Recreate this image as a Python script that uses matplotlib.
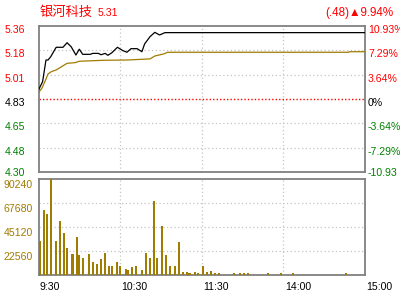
import matplotlib
matplotlib.use("Agg")
import matplotlib.pyplot as plt
from matplotlib.transforms import ScaledTranslation, blended_transform_factory

plt.rcParams['font.family'] = ['Liberation Sans', 'DejaVu Sans']

# --- data ---
stock_name = '银河科技'
last_price = '5.31'
change_text = '(.48)▲9.94%'
prev_close = 4.83
pct_ticks = [10.93, 7.29, 3.64, 0, -3.64, -7.29, -10.93]
price_labels = ['5.36', '5.18', '5.01', '4.83', '4.65', '4.48', '4.30']
pct_labels = ['10.93%', '7.29%', '3.64%', '0%', '-3.64%', '-7.29%', '-10.93']

# minutes since 9:30 (trading minutes, 240 total)
time_ticks = [0, 60, 120, 180, 240]
time_labels = ['9:30', '10:30', '11:30', '14:00', '15:00']

price_min = [0, 3, 5.5, 7, 9, 13, 18, 21, 24, 27.5, 30, 32.5, 38, 40, 44, 46, 49,
             51, 54, 58, 62, 65, 68, 72.5, 76, 78, 82, 85.5, 89, 93, 240]
price = [4.895, 4.955, 5.112, 5.112, 5.136, 5.204, 5.204, 5.237, 5.208, 5.148, 5.19,
         5.153, 5.153, 5.16, 5.16, 5.15, 5.16, 5.146, 5.165, 5.204, 5.18, 5.168,
         5.194, 5.194, 5.172, 5.228, 5.281, 5.312, 5.293, 5.31, 5.31]

avg_min = [0, 2.5, 5, 7, 9.5, 13, 17, 21, 27, 30, 48, 65, 82, 85.5, 92, 95, 228, 228.5, 240]
avg_price = [4.876, 4.908, 4.963, 5.011, 5.028, 5.04, 5.064, 5.088, 5.093, 5.103, 5.11,
             5.112, 5.12, 5.141, 5.156, 5.168, 5.168, 5.172, 5.172]

vol_min = [1, 4, 6, 9, 13, 16, 19, 21, 25, 28, 30, 33, 37, 40, 43, 46, 49, 52, 54, 58,
           60, 64, 66, 69, 72, 76, 79, 82, 85, 87, 91, 94, 97, 100, 103, 106, 109, 111,
           115, 117, 121, 124, 127, 130, 133, 144, 148, 151, 154, 169, 178, 187, 226]
volume = [32000, 61400, 57300, 90240, 32000, 50800, 39500, 25400, 19700, 35700, 18800,
          16000, 19700, 12200, 10300, 15000, 20700, 8500, 8500, 12200, 8500, 5600, 4700,
          7500, 8500, 4700, 20700, 16000, 69600, 16000, 46100, 18800, 8500, 8500, 31000,
          2800, 2800, 1900, 2800, 1900, 8500, 2800, 3800, 1900, 1900, 1900, 2000, 2000,
          2000, 2000, 2000, 2000, 2000]
vol_ticks = [22560, 45120, 67680, 90240]

RED = '#ff0000'
GREEN = '#008000'
GOLD = '#a07c00'
GRID = '#c4c4c4'
FRAME = '#808080'

price_ticks = [prev_close * (1 + p / 100) for p in pct_ticks]
tick_colors = [RED if p > 0 else ('black' if p == 0 else GREEN) for p in pct_ticks]

fig = plt.figure(figsize=(4, 3), dpi=100)
ax1 = fig.add_axes([38.5 / 400, 1 - 172 / 300, 326.5 / 400, 146 / 300])
ax2 = fig.add_axes([38.5 / 400, 1 - 275.3 / 300, 326.5 / 400, 96 / 300])

def down(px):
    return ScaledTranslation(0, -px / 100, fig.dpi_scale_trans)

for ax in (ax1, ax2):
    ax.set_xlim(0, 240)
    ax.set_xticks([])
    ax.set_yticks([])
    for s in ax.spines.values():
        s.set_color(FRAME)
        s.set_linewidth(1.3)
    for t in time_ticks[1:-1]:
        ax.axvline(t, color=GRID, lw=0.9, ls=(0, (1, 2)), zorder=0)

# price panel
ax1.set_ylim(price_ticks[-1], price_ticks[0])
for v, p in zip(price_ticks[1:-1], pct_ticks[1:-1]):
    if p == 0:
        ax1.axhline(v, color=RED, lw=1.0, ls=(0, (1, 1.5)), zorder=1)
    else:
        ax1.axhline(v, color=GRID, lw=0.9, ls=(0, (1, 2)), zorder=0)
ax1.plot(avg_min, avg_price, color=GOLD, lw=0.9, zorder=3)
ax1.plot(price_min, price, color='black', lw=0.9, zorder=4)

left_tr = blended_transform_factory(fig.transFigure, ax1.transData)
right_tr = blended_transform_factory(fig.transFigure, ax1.transData)
for i, (v, lab, pl, c) in enumerate(zip(price_ticks, price_labels, pct_labels, tick_colors)):
    off = 1 if i == len(price_ticks) - 1 else 4
    ax1.text(5 / 400, v, lab, color=c, fontsize=7.6, ha='left', va='center',
             transform=left_tr + down(off), clip_on=False)
    ax1.text(368 / 400, v, pl, color=c, fontsize=7.6, ha='left', va='center',
             transform=right_tr + down(off), clip_on=False)

# volume panel
ax2.bar(vol_min, volume, width=1.5, color=GOLD, zorder=3)
ax2.set_ylim(0, vol_ticks[-1])
for v in vol_ticks[:-1]:
    ax2.axhline(v, color=GRID, lw=0.9, ls=(0, (1, 2)), zorder=0)
vol_tr = blended_transform_factory(fig.transFigure, ax2.transData)
for v in vol_ticks:
    ax2.text(4 / 400, v, str(v), color=GOLD, fontsize=7.6, ha='left', va='center',
             transform=vol_tr + down(6), clip_on=False)

time_tr = blended_transform_factory(ax2.transData, fig.transFigure)
for t, lab in zip(time_ticks, time_labels):
    ax2.text(t, 1 - 286.5 / 300, lab, fontsize=7.6, color='black', ha='left', va='center',
             transform=time_tr + ScaledTranslation(1.5 / 100, 0, fig.dpi_scale_trans),
             clip_on=False)

# header
fig.text(40 / 400, 1 - 12.5 / 300, stock_name, color=RED, fontsize=9.5, ha='left', va='center',
         family=['Noto Sans CJK SC', 'DejaVu Sans'])
fig.text(98 / 400, 1 - 12.5 / 300, last_price, color=RED, fontsize=7.6, ha='left', va='center')
fig.text(393 / 400, 1 - 13 / 300, change_text, color=RED, fontsize=8.4, ha='right', va='center')

fig.savefig('out.png', dpi=100)
